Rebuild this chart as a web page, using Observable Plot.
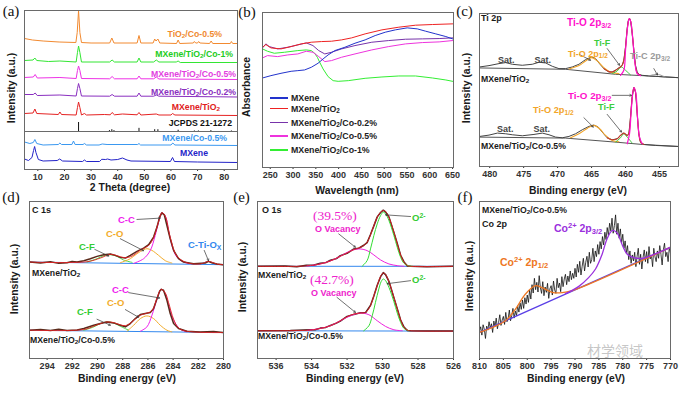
<!DOCTYPE html>
<html><head><meta charset="utf-8">
<script src="https://cdn.jsdelivr.net/npm/d3@7"></script>
<script src="https://cdn.jsdelivr.net/npm/@observablehq/plot@0.6"></script>
<style>
html,body{margin:0;padding:0;background:#fff}
#fig{position:relative;width:688px;height:394px;background:#fff;overflow:hidden}
#fig sub{font-size:0.72em;vertical-align:-0.28em;line-height:0}
#fig sup{font-size:0.72em;vertical-align:0.5em;line-height:0}
</style></head>
<body><div id="fig"></div>
<script>
// ---------- (a) XRD: [2theta, intensity a.u.] ----------
const xrdTiO2Co05=[[5,131],[8,129.5],[12,128.5],[18,127.5],[24.3,127],[24.8,137],[25.3,159],[25.8,137],[26.4,127],[30,126.5],[37,126.5],[37.8,131.5],[38.6,126.5],[47.3,126.5],[48,134],[48.7,126.5],[53.3,126.5],[53.9,130.5],[54.4,128.5],[55.1,130.5],[55.8,126.5],[62.1,126],[62.7,129.5],[63.3,126],[68.4,126.5],[68.8,128],[69.3,126.5],[70,126.5],[70.4,128],[70.9,126.5],[74.5,126],[75.1,128.5],[75.7,126],[82.3,126],[82.7,128],[83.2,126],[85,126]];
const xrdCo1=[[5,109],[8.2,109.5],[8.9,111.5],[9.6,109],[14,108],[18.3,108.5],[24.4,107.5],[24.9,117],[25.3,123.5],[25.8,117],[26.4,107.5],[37,107.5],[37.9,109.5],[38.8,107.5],[47.3,107.5],[48,111.5],[48.7,107.5],[53.5,107.5],[54.5,109.5],[55.5,107.5],[62,107.5],[62.7,108.5],[63.5,107],[85,107]];
const xrdCo05=[[5,92],[8.3,92.5],[9,95],[9.8,91.5],[18.3,92],[24.4,91],[24.9,99],[25.3,103.5],[25.8,99],[26.4,91],[37,90.7],[37.9,93],[38.8,90.7],[47.3,90.7],[48,93.5],[48.7,90.7],[53.5,90.7],[54.5,92.5],[55.5,90.5],[85,90]];
const xrdCo02=[[5,75],[8.3,75],[9,76.5],[9.8,74],[18.3,74.5],[24.4,73.5],[24.9,81],[25.3,86],[25.8,81],[26.4,73.5],[37,73.3],[37.9,75],[38.8,73.3],[47.3,73.3],[48,76.5],[48.7,73.3],[53.5,73.3],[54.5,74.5],[55.5,73.3],[85,72.5]];
const xrdMT=[[5,56],[8.2,56.5],[8.9,60.5],[9.6,56],[17.7,55],[18.3,57.5],[18.9,55],[24.4,54.5],[24.9,62],[25.3,67.5],[25.8,62],[26.4,54.5],[27.5,56],[28.3,54.5],[35,55],[37.2,54.7],[37.9,57],[38.8,54.7],[41.8,55.5],[47.3,54.7],[48,57],[48.7,54.5],[54.5,55.5],[55.5,54.5],[60,54.5],[60.6,56],[61.5,54.5],[85,54]];
const jcpds=[[25.3,100],[36.9,10],[37.8,20],[38.6,10],[48.0,35],[53.9,20],[55.1,20],[62.7,14],[68.8,6],[70.3,6],[75.0,10],[82.7,6]];
const xrdMCo=[[5,27.5],[7,26],[8.3,27],[8.9,30],[9.6,26],[12,24.5],[17.7,25],[18.3,26.5],[18.9,25],[22.8,25],[23.4,28.5],[24,25],[27,25],[27.5,26],[28.3,24.5],[33,24.5],[34.2,25.5],[36,25],[47.5,25],[48,26],[48.6,24.5],[60,24.5],[60.7,26.5],[61.5,24.5],[85,24]];
const xrdM=[[5,10.5],[6.5,9],[7.8,12],[8.4,19],[8.8,23],[9.3,17],[10.2,10],[12,8.5],[17.3,9],[18.2,10.5],[19.3,8.5],[26.8,8],[27.5,9.5],[28.3,8],[33.2,8],[34,10.2],[35.5,10],[36.2,10.5],[37.5,9.5],[40,10],[41.8,11.5],[43.5,9.5],[45,8.5],[59.8,8],[60.6,12],[61.3,8],[70,7.5],[85,7]];
const xrdTicks=[10,20,30,40,50,60,70,80];

// ---------- (b) UV-vis: [wavelength nm, absorbance a.u.] ----------
const uvMXene=[[233,268],[251.5,275],[273.6,282],[295.8,288],[310.5,290],[325.3,292],[340,300],[354.8,312],[365.9,325],[376.9,337],[391.7,350],[413.8,360],[435.9,372],[458.1,382],[480.2,395],[502.3,405],[524.4,412],[550.4,418],[572.5,415],[591,408],[613.1,400],[635.2,392],[650,385]];
const uvTiO2=[[233,360],[240.4,368],[251.5,358],[273.6,355],[295.8,362],[317.9,370],[340,375],[362.2,377],[384.3,378],[406.4,382],[428.6,388],[458.1,400],[495,412],[532,420],[568.8,426],[605.7,428],[650,430]];
const uvCo02=[[233,358],[240.4,370],[247.8,362],[266.2,355],[288.4,360],[310.5,367],[329,373],[343.7,365],[356.3,350],[369.6,340],[384.3,345],[406.4,355],[435.9,365],[472.8,375],[509.8,380],[546.7,384],[583.6,385],[620.5,386],[650,388]];
const uvCo05=[[233,328],[244.1,335],[266.2,332],[288.4,337],[310.5,340],[329,348],[343.7,345],[356.3,332],[369.6,317],[384.3,320],[406.4,330],[435.9,340],[472.8,352],[509.8,362],[546.7,370],[583.6,374],[620.5,376],[650,380]];
const uvCo1=[[233,355],[244.1,348],[258.9,342],[281,345],[310.5,350],[329,352],[340,350],[347.4,342],[353.3,330],[358.5,315],[365.9,295],[376.9,272],[388,260],[399,258],[421.2,260],[458.1,267],[495,271],[532,274],[568.8,274],[605.7,268],[635.2,262],[650,258]];
const uvNames=["MXene","MXene/TiO<sub>2</sub>","MXene/TiO<sub>2</sub>/Co-0.2%","MXene/TiO<sub>2</sub>/Co-0.5%","MXene/TiO<sub>2</sub>/Co-1%"];
const uvTicks=[250,300,350,400,450,500,550,600,650];

// ---------- (c) Ti 2p: [binding energy eV, intensity] ----------
const ti1Raw=[[481.47,298],[480.1,302],[478.63,308],[477.65,311],[476.67,306],[475.2,303],[473.73,306],[472.75,312],[471.76,310],[470.78,300],[469.8,293],[468.82,293],[467.84,298],[466.86,306],[465.88,320],[465.0,328],[464.41,323],[463.92,310],[463.19,293],[462.45,283],[461.96,283],[461.47,288],[460.98,295],[460.74,298],[460.49,303],[460.25,318],[460.0,358],[459.75,413],[459.61,436],[459.41,443],[459.26,436],[459.02,398],[458.77,348],[458.53,303],[458.28,283],[458.04,276],[457.55,273],[456.57,271],[455.59,270],[454.12,268],[452.25,266]];
const ti1Bg=[[481.47,295],[468.82,291],[461.47,276],[457.55,272],[452.25,266]];
const ti1O12=[[468.33,292],[466.86,302],[465.88,316],[465.0,326],[464.17,316],[463.19,296],[462.21,282],[460.98,278]];
const ti1F=[[461.96,278],[461.23,286],[460.64,298],[460.0,288],[459.26,274]];
const ti1O32=[[460.74,273],[460.25,288],[460.0,348],[459.75,408],[459.51,440],[459.41,443],[459.22,433],[458.92,378],[458.63,313],[458.28,278],[457.79,272]];
const ti1C=[[456.6,271],[455.3,276],[454.2,268]];
const ti1Env=[[463.19,293],[462.45,284],[461.96,283],[461.47,288],[460.98,295],[460.49,303],[460.25,318],[460.0,356],[459.75,412],[459.51,440],[459.41,443],[459.22,433],[458.92,380],[458.63,315],[458.28,280],[457.79,273]];
const ti2Raw=[[481.47,90],[480.1,94],[478.87,100],[477.65,98],[476.67,95],[475.2,92],[473.48,96],[472.25,100],[471.27,95],[470.29,88],[469.31,86],[468.33,90],[467.35,98],[466.37,110],[465.39,120],[464.66,124],[464.02,118],[463.43,103],[462.7,86],[461.96,80],[461.23,83],[460.74,93],[460.25,100],[459.75,93],[459.51,98],[459.26,148],[459.02,208],[458.77,236],[458.53,223],[458.28,158],[458.04,98],[457.79,73],[457.3,66],[455.59,63],[452.25,60]];
const ti2Bg=[[481.47,88],[468.82,85],[461.47,73],[457.55,66],[452.25,60]];
const ti2O12=[[468.09,86],[466.86,98],[465.64,114],[464.66,123],[463.82,113],[462.94,93],[461.96,78],[460.98,74]];
const ti2F=[[461.47,73],[460.74,86],[460.25,98],[459.75,88],[459.02,70]];
const ti2O32=[[459.75,68],[459.41,98],[459.12,178],[458.77,236],[458.48,220],[458.24,148],[457.94,88],[457.55,68]];
const ti2Env=[[462.7,86],[461.96,80],[461.23,83],[460.74,93],[460.25,100],[459.75,93],[459.51,100],[459.26,148],[459.02,208],[458.77,236],[458.53,223],[458.28,158],[458.04,98],[457.79,73],[457.3,66]];
const tiTicks=[480,475,470,465,460,455];

// ---------- (d) C 1s ----------
const c1Raw=[[295.37,290],[294.53,287],[293.74,291],[293.08,286],[292.42,288],[292.02,292],[291.62,290],[291.09,294],[290.57,300],[290.04,307],[289.51,312],[288.98,314],[288.59,310],[288.19,304],[287.79,302],[287.4,310],[286.87,322],[286.34,332],[285.94,342],[285.55,365],[285.28,395],[285.07,425],[284.89,438],[284.7,432],[284.49,400],[284.23,360],[283.96,325],[283.57,300],[283.17,290],[282.38,285],[281.45,287],[281.19,292],[280.93,288],[280.53,284],[280.0,282]];
const c1Bg=[[295.37,290],[280,282]];
const c1F=[[290.83,290],[290.04,300],[289.51,309],[288.98,312],[288.45,307],[287.93,296],[287.26,289]];
const c1O=[[288.19,288],[287.4,300],[286.87,315],[286.34,327],[286.08,330],[285.68,325],[285.15,310],[284.62,294],[284.1,287]];
const c1C=[[287.13,286],[286.34,300],[285.81,325],[285.42,370],[285.15,410],[284.89,438],[284.62,428],[284.36,385],[284.1,340],[283.7,305],[283.17,290],[282.64,285]];
const c1Ti=[[281.85,284],[281.45,289],[281.19,292],[280.93,288],[280.53,283]];
const c1Env=[[295.37,290],[290.83,291],[289.77,302],[288.98,313],[288.19,306],[287.79,303],[287.26,308],[286.6,326],[285.94,340],[285.55,363],[285.15,412],[284.89,438],[284.62,428],[284.23,365],[283.7,308],[282.91,288],[281.85,284],[281.19,292],[280.53,284],[280.0,282]];
const c2Raw=[[295.37,85],[294.53,87],[293.74,84],[293.08,88],[292.42,84],[291.62,86],[291.09,90],[290.3,100],[289.77,105],[289.25,110],[288.72,107],[288.19,100],[287.79,95],[287.4,105],[287.0,120],[286.6,132],[286.21,135],[285.81,138],[285.55,150],[285.28,180],[285.07,202],[284.94,208],[284.76,205],[284.49,175],[284.23,135],[283.96,105],[283.57,90],[282.91,82],[281.85,80],[280.79,81],[280.0,78]];
const c2Bg=[[295.37,85],[280,78]];
const c2F=[[291.09,85],[290.3,95],[289.77,105],[289.25,110],[288.72,107],[288.19,97],[287.53,85]];
const c2O=[[287.66,82],[287.13,100],[286.6,120],[286.08,128],[285.55,120],[285.02,100],[284.49,85],[284.1,80]];
const c2C=[[286.6,82],[286.08,95],[285.68,130],[285.28,178],[284.94,208],[284.62,195],[284.36,160],[283.96,115],[283.43,88],[282.91,80]];
const c2Env=[[295.37,85],[291.09,87],[290.3,97],[289.77,105],[289.25,110],[288.72,108],[288.19,101],[287.79,99],[287.4,106],[287.0,119],[286.6,130],[286.21,135],[285.81,140],[285.55,152],[285.28,182],[284.94,208],[284.62,197],[284.36,168],[283.96,118],[283.57,92],[282.91,82],[280.0,78]];
const cTicks=[294,292,290,288,286,284,282,280];

// ---------- (e) O 1s ----------
const o1Env=[[537.06,276],[534.83,276],[534.08,278],[533.51,283],[532.94,292],[532.38,306],[532.0,316],[531.62,326],[531.34,331],[531.06,338],[530.87,348],[530.68,370],[530.49,398],[530.3,423],[530.11,438],[529.96,443],[529.83,440],[529.64,423],[529.36,378],[529.17,343],[528.98,310],[528.79,288],[528.6,278],[528.42,276],[526.0,276]];
const o1Raw=[[537.06,276],[535.5,277],[534.83,275],[534.3,279],[533.9,279],[533.51,285],[533.2,287],[532.94,294],[532.6,299],[532.38,308],[532.0,315],[531.62,328],[531.34,330],[531.06,339],[530.87,347],[530.68,371],[530.49,397],[530.3,424],[530.11,437],[529.96,444],[529.83,439],[529.64,424],[529.36,377],[529.17,344],[528.98,309],[528.79,289],[528.6,277],[528.42,276],[527.5,275],[526.0,276]];
const o1G=[[531.15,276],[530.87,293],[530.68,328],[530.49,368],[530.3,403],[530.11,428],[529.96,438],[529.83,433],[529.64,413],[529.36,368],[529.17,333],[528.98,303],[528.79,285],[528.51,277],[528.32,276]];
const o1V=[[534.26,277],[533.51,283],[532.94,292],[532.38,306],[531.91,320],[531.34,328],[530.87,323],[530.49,310],[530.11,295],[529.64,283],[529.17,278],[528.79,276]];
const o1Bg=[[537.06,276],[526,276]];
const o2Env=[[537.06,83],[534.08,85],[533.51,90],[532.94,98],[532.38,113],[532.0,125],[531.62,133],[531.25,136],[530.96,138],[530.68,158],[530.49,188],[530.3,218],[530.11,246],[529.96,256],[529.83,252],[529.64,230],[529.36,183],[529.17,148],[528.98,116],[528.79,93],[528.6,85],[528.42,83],[526.0,82]];
const o2Raw=[[537.06,83],[535.2,84],[534.08,86],[533.8,86],[533.51,91],[533.2,93],[532.94,99],[532.6,106],[532.38,112],[532.0,126],[531.62,132],[531.25,137],[530.96,137],[530.68,159],[530.49,187],[530.3,219],[530.11,245],[529.96,257],[529.83,251],[529.64,231],[529.36,182],[529.17,149],[528.98,115],[528.79,94],[528.6,84],[528.42,83],[527.4,82],[526.0,82]];
const o2G=[[531.06,83],[530.77,98],[530.58,128],[530.4,168],[530.21,208],[530.08,230],[529.96,238],[529.83,233],[529.64,213],[529.36,170],[529.17,136],[528.98,108],[528.79,90],[528.51,83]];
const o2V=[[534.26,84],[533.51,90],[532.94,98],[532.38,113],[531.81,128],[531.25,136],[530.77,131],[530.3,113],[529.83,96],[529.36,86],[528.89,83]];
const o2Bg=[[537.06,83],[526,82]];
const oTicks=[536,534,532,530,528,526];

// ---------- (f) Co 2p: raw counts sampled every 0.25 eV from 810 eV ----------
const coRawI=[82,95,70,101,88,60,97,85,110,92,
104,78,112,96,121,89,108,131,99,115,
126,102,138,110,119,145,113,128,150,121,
142,128,158,139,166,147,175,150,182,163,
190,168,205,178,221,196,240,206,228,199,
248,212,195,230,188,214,198,225,180,209,
218,190,232,205,195,240,212,226,200,245,
215,238,252,221,247,230,262,236,255,240,
270,244,282,258,291,250,276,300,262,288,
306,274,318,285,296,330,290,322,305,341,
312,350,328,365,340,378,356,392,368,405,
382,420,375,398,430,372,405,360,388,345,
372,330,352,315,338,296,322,285,310,292,
318,275,305,330,282,312,268,302,325,290,
320,285,335,298,310,275,330,305,290,322,
300,338,312,280,325,345,305,318,290,332,315];
const coStartEV=810, coStepEV=0.25;
const coBg=[[810,78],[770,333]];
const co12=[[810,78],[804.56,113],[802.46,148],[800.37,193],[798.28,218],[796.88,212],[794.79,198],[792.7,197],[790.6,203],[770,333]];
const co32=[[792.0,194],[789.2,216],[787.1,243],[785.7,268],[784.3,313],[783.3,358],[782.2,383],[781.2,376],[780.1,340],[779.1,313],[777.7,302],[775.9,300],[773.2,313],[770,333]];
const coTicks=[810,805,800,795,790,785,780,775,770];

// ================= drawing =================
const fig=document.getElementById("fig");
const SANS="'Liberation Sans', Arial, Helvetica, sans-serif";
const SERIF="'Liberation Serif', 'Times New Roman', serif";

function panel(o){
  const [fl,ft,fr,fb]=o.frame;
  const svg=Plot.plot({
    width:o.width,height:o.height,
    marginLeft:fl-o.left,marginTop:ft-o.top,marginRight:o.left+o.width-fr,marginBottom:o.top+o.height-fb,
    x:{domain:o.x,ticks:o.ticks,tickSize:2,tickPadding:2,label:null},
    y:{domain:o.y,axis:null},
    style:{fontFamily:SANS,fontSize:"9px",fontWeight:"bold",color:"#333",background:"transparent",overflow:"visible"},
    marks:[...o.marks,Plot.frame({stroke:"#6a6a6a",strokeWidth:1})]
  });
  svg.style.position="absolute";svg.style.left=o.left+"px";svg.style.top=o.top+"px";svg.style.overflow="visible";
  fig.appendChild(svg);
}
const L=(d,c,w=1,curve="linear")=>Plot.line(d,{stroke:c,strokeWidth:w,curve,clip:true});
const S=(d,c,w=1)=>L(d,c,w,"catmull-rom");
const A=(d)=>Plot.arrow(d,{x1:"x1",y1:"y1",x2:"x2",y2:"y2",stroke:"#333",strokeWidth:0.7,headLength:4});

// (a)
const stickBase=38;
panel({left:0,top:0,width:240,height:195,frame:[24,10,237,169],x:[5,85],y:[0,159],ticks:xrdTicks,marks:[
  Plot.ruleY([stickBase],{stroke:"#6a6a6a"}),
  Plot.ruleX(jcpds,{x:d=>d[0],y1:()=>stickBase,y2:d=>stickBase+d[1]*0.09,stroke:"#111",strokeWidth:1}),
  L(xrdM,"#2323c8"),L(xrdMCo,"#3a98f0"),L(xrdMT,"#e52222"),L(xrdCo02,"#8a2fc0"),
  L(xrdCo05,"#ee33e6"),L(xrdCo1,"#33e633"),L(xrdTiO2Co05,"#f28a30")
]});
// (b)
const uvColors=["#2233cc","#ee2222","#7733aa","#ee33dd","#33ee33"];
panel({left:240,top:0,width:215,height:195,frame:[262,12,453,167],x:[233,652],y:[0,464],ticks:uvTicks,marks:[
  L(uvCo1,uvColors[4]),L(uvCo05,uvColors[3]),L(uvCo02,uvColors[2]),L(uvMXene,uvColors[0]),L(uvTiO2,uvColors[1])
]});
// (c)
const tiMag="#ff10cc",tiOr="#f2a52a",tiGr="#3dcc3d";
panel({left:455,top:0,width:233,height:195,frame:[479,13,678,166],x:[481.5,452.2],y:[0,458],ticks:tiTicks,marks:[
  L(ti1Bg,"#555"),L(ti1Raw,"#444"),S(ti1O12,tiOr,1.1),S(ti1F,tiGr),S(ti1C,"#999"),S(ti1Env,"#c23a2a",1.1),S(ti1O32,tiMag,1.2),
  L(ti2Bg,"#555"),L(ti2Raw,"#444"),S(ti2O12,tiOr,1.1),S(ti2F,tiGr),S(ti2Env,"#c23a2a",1.1),S(ti2O32,tiMag,1.2),
  A([{x1:466.76,y1:335,x2:465.15,y2:318},{x1:462.7,y1:353,x2:460.88,y2:303},{x1:455.83,y1:293,x2:455.29,y2:274},
     {x1:461.96,y1:213,x2:459.12,y2:213},{x1:466.13,y1:146,x2:464.75,y2:118},{x1:462.7,y1:156,x2:460.59,y2:103}])
]});
// (d)
const cMag="#ee22ee",cOr="#f2ac2c",cGr="#4dd84d",cBl="#3388ee";
panel({left:0,top:195,width:240,height:199,frame:[29,201,223,358],x:[295.4,280],y:[0,472],ticks:cTicks,marks:[
  L(c1Bg,cBl),L(c2Bg,cBl),
  S(c1F,cGr),S(c1O,cOr),S(c1C,cMag),S(c1Ti,cBl),L(c1Raw,"#5a2a1a",1.5),S(c1Env,"#e02020",0.9),
  S(c2F,cGr),S(c2O,cOr),S(c2C,cMag),L(c2Raw,"#5a2a1a",1.5),S(c2Env,"#e02020",0.9),
  A([{x1:286.87,y1:418,x2:285.02,y2:422},{x1:288.19,y1:360,x2:286.34,y2:324},{x1:290.22,y1:328,x2:289.11,y2:308},
     {x1:281.53,y1:325,x2:281.19,y2:294},{x1:287.53,y1:198,x2:285.07,y2:182},{x1:287.79,y1:147,x2:286.74,y2:124},{x1:290.04,y1:118,x2:288.98,y2:100}])
]});
// (e)
panel({left:240,top:195,width:215,height:199,frame:[257,201,453,358],x:[537.05,526],y:[0,470],ticks:oTicks,marks:[
  L(o1Bg,cBl),L(o2Bg,cBl),
  L(o1Raw,"#4a2020",1.5),S(o1V,"#ee22dd"),S(o1G,"#33dd33"),S(o1Env,"#e02020",0.9),
  L(o2Raw,"#4a2020",1.5),S(o2V,"#ee22dd"),S(o2G,"#33dd33"),S(o2Env,"#e02020",0.9),
  A([{x1:532.47,y1:373,x2:531.53,y2:333},{x1:528.42,y1:425,x2:529.83,y2:430},{x1:532.57,y1:183,x2:531.53,y2:138},{x1:528.42,y1:233,x2:529.74,y2:224}])
]});
// (f)
const coRaw=coRawI.map((v,i)=>[coStartEV-coStepEV*i,v]);
panel({left:455,top:195,width:233,height:199,frame:[479,201,670,358],x:[810,770],y:[0,470],ticks:coTicks,marks:[
  L(coRaw,"#111",0.8),L(coBg,"#5a3fe6",1.3),S(co12,"#ee7722",1.3),S(co32,"#9a30dd",1.3)
]});

// ---------- text ----------
function lab(x,y,html,o={}){
  const d=document.createElement("div");
  d.innerHTML=html;
  const tx=o.a==="m"?"-50%":o.a==="e"?"-100%":"0";
  d.style.cssText=`position:absolute;left:${x}px;top:${y}px;white-space:nowrap;line-height:1;`+
    `font-weight:${o.w||"bold"};font-size:${o.s||8.7}px;color:${o.c||"#1a1a1a"};font-family:${o.f||SANS};`+
    `transform:translate(${tx},-50%)${o.r?" rotate(-90deg)":""};`;
  fig.appendChild(d);
}
const T="TiO<sub>2</sub>";
// panel letters
[["(a)",11,11],["(b)",247,11.5],["(c)",464.5,10.5],["(d)",11,197],["(e)",241.5,197],["(f)",465,197]]
  .forEach(([t,x,y])=>lab(x,y,t,{a:"m",f:SERIF,w:"normal",s:15,c:"#111"}));
// axis titles
const ax={s:10.4,c:"#1a1a1a"};
lab(130,188,"2 Theta (degree)",{...ax,a:"m"});
lab(357,190.5,"Wavelength (nm)",{...ax,a:"m"});
lab(578,190.5,"Binding energy (eV)",{...ax,a:"m"});
lab(127,379,"Binding energy (eV)",{...ax,a:"m"});
lab(355,379,"Binding energy (eV)",{...ax,a:"m"});
lab(576,379,"Binding energy (eV)",{...ax,a:"m"});
[[12,88,"Intensity (a.u.)"],[247,87,"Absorbance"],[467,88,"Intensity (a.u.)"],[15,279,"Intensity (a.u.)"],[243,277,"Intensity (a.u.)"],[470,276,"Intensity (a.u.)"]]
  .forEach(([x,y,t])=>lab(x,y,t,{...ax,a:"m",r:true}));
// (a) series labels
[[`${T}/Co-0.5%`,222,34,"#f08a30"],[`MXene/${T}/Co-1%`,233,54,"#22cc22"],[`MXene/${T}/Co-0.5%`,236,74,"#e23ee0"],
 [`MXene/${T}/Co-0.2%`,236,92,"#8a2fc0"],[`MXene/${T}`,220,107,"#e02020"],["JCPDS 21-1272",232,122.5,"#111"],
 ["MXene/Co-0.5%",227,137.5,"#3a98f0"],["MXene",208,153,"#2424c8"]]
  .forEach(([t,x,y,c])=>lab(x,y,t,{a:"e",c}));
// (b) legend
const legY=[98,108.5,122.5,136,150];
uvNames.forEach((n,i)=>{
  const ln=document.createElement("div");
  ln.style.cssText=`position:absolute;left:270px;top:${legY[i]-0.75}px;width:18px;height:1.5px;background:${uvColors[i]}`;
  fig.appendChild(ln);
  lab(291,legY[i],n,{s:8.8,c:"#222"});
});
// (c)
lab(481,18,"Ti 2p",{s:9});
lab(567,23,"Ti-O 2p<sub>3/2</sub>",{s:10,c:tiMag});
lab(568,53.5,"Ti-O 2p<sub>1/2</sub>",{s:9,c:tiOr});
lab(594,42.5,"Ti-F",{s:9,c:tiGr});
lab(630,57,"Ti-C 2p<sub>3/2</sub>",{s:9.2,c:"#9a9a9a"});
lab(498,59.5,"Sat.",{s:9,c:"#444"});lab(534.5,59.5,"Sat.",{s:9,c:"#444"});
lab(481,79,`MXene/${T}`);
lab(568,96,"Ti-O 2p<sub>3/2</sub>",{s:9.8,c:tiMag});
lab(533,110.5,"Ti-O 2p<sub>1/2</sub>",{s:9.2,c:tiOr});
lab(598,108,"Ti-F",{s:9.2,c:tiGr});
lab(497,128.5,"Sat.",{s:9,c:"#444"});lab(533.5,128.5,"Sat.",{s:9,c:"#444"});
lab(481,146,`MXene/${T}/Co-0.5%`);
// (d)
lab(32,210,"C 1s",{s:9});
lab(118,220,"C-C",{s:9.5,c:cMag});lab(106,233.5,"C-O",{s:9.5,c:cOr});lab(79,247,"C-F",{s:9.5,c:"#33cc33"});
lab(188,244.5,"C-Ti-O<sub>X</sub>",{s:9.5,c:cBl});
lab(32,272.5,`MXene/${T}`);
lab(112,289.5,"C-C",{s:9.5,c:cMag});lab(107,303,"C-O",{s:9.5,c:cOr});lab(77,312,"C-F",{s:9.5,c:"#33cc33"});
lab(30,340,`MXene/${T}/Co-0.5%`);
// (e)
lab(262,210,"O 1s",{s:9});
lab(313,216,"(39.5%)",{f:SERIF,w:"normal",s:13.5,c:"#ee22cc"});
lab(315,228.5,"O Vacancy",{s:9,c:"#ee22cc"});
lab(412,218,"O<sup>2-</sup>",{s:9.5,c:"#33cc33"});
lab(258,275,`MXene/${T}`);
lab(310,280,"(42.7%)",{f:SERIF,w:"normal",s:13.5,c:"#ee22cc"});
lab(311,292.5,"O Vacancy",{s:9,c:"#ee22cc"});
lab(412,280,"O<sup>2-</sup>",{s:9.5,c:"#33cc33"});
lab(258,336,`MXene/${T}/Co-0.5%`);
// (f)
lab(482,210,`MXene/${T}/Co-0.5%`);
lab(482,224,"Co 2p",{s:9});
lab(554,228,"Co<sup>2+</sup> 2p<sub>3/2</sub>",{s:10.5,c:"#9a30dd"});
lab(500,262,"Co<sup>2+</sup> 2p<sub>1/2</sub>",{s:10.5,c:"#ee7722"});
lab(587,350,"材学领域",{s:14,w:"normal",c:"rgba(150,150,150,0.55)",f:"'Noto Sans CJK SC', sans-serif"});
</script></body></html>
